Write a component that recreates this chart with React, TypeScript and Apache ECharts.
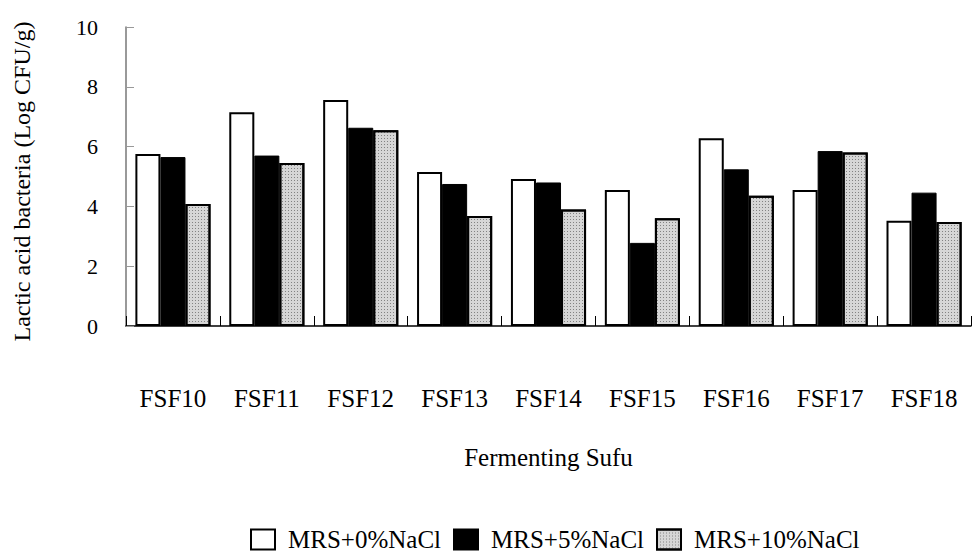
import React, { useEffect, useRef } from "react";
import * as echarts from "echarts";

const categories = ["FSF10", "FSF11", "FSF12", "FSF13", "FSF14", "FSF15", "FSF16", "FSF17", "FSF18"];
const nacl0 = [5.75, 7.15, 7.56, 5.15, 4.92, 4.55, 6.28, 4.55, 3.52];
const nacl5 = [5.65, 5.7, 6.63, 4.75, 4.8, 2.78, 5.24, 5.85, 4.46];
const nacl10 = [4.08, 5.45, 6.55, 3.68, 3.9, 3.6, 4.36, 5.8, 3.48];
const seriesNames = ["MRS+0%NaCl", "MRS+5%NaCl", "MRS+10%NaCl"];

const FONT = "'Liberation Serif', 'Times New Roman', serif";

export default function App() {
  const ref = useRef<HTMLDivElement>(null);
  useEffect(() => {
    document.body.style.margin = "0";
    const chart = echarts.init(ref.current!, null, { renderer: "svg" });
    const grayDecal = {
      symbol: "rect",
      symbolSize: 1,
      color: "rgba(60,60,60,0.55)",
      dashArrayX: [[1, 2]],
      dashArrayY: [1, 2],
      rotation: 0,
    };
    chart.setOption({
      animation: false,
      backgroundColor: "#ffffff",
      textStyle: { fontFamily: FONT, color: "#000" },
      grid: { left: 126, right: 1, top: 27, bottom: 230, containLabel: false },
      legend: {
        left: 250,
        top: 527,
        icon: "rect",
        itemWidth: 24,
        itemHeight: 20,
        itemGap: 12,
        padding: 0,
        textStyle: { fontFamily: FONT, fontSize: 25, lineHeight: 22, color: "#000", padding: [0, 0, 0, 8] },
        data: seriesNames,
      },
      xAxis: {
        type: "category",
        data: categories,
        name: "Fermenting Sufu",
        nameLocation: "middle",
        nameGap: 119,
        nameTextStyle: { fontFamily: FONT, fontSize: 25, color: "#000" },
        axisLine: { lineStyle: { color: "#000", width: 1.5 } },
        axisTick: { show: true, inside: true, length: 10, alignWithLabel: false, lineStyle: { color: "#000" } },
        axisLabel: { fontFamily: FONT, fontSize: 25, color: "#000", margin: 60 },
      },
      yAxis: {
        type: "value",
        min: 0,
        max: 10,
        interval: 2,
        name: "Lactic acid bacteria (Log CFU/g)",
        nameLocation: "middle",
        nameRotate: 90,
        nameGap: 92,
        nameTextStyle: { fontFamily: FONT, fontSize: 24, color: "#000", padding: [0, 10, 0, 0] },
        axisLine: { show: true, lineStyle: { color: "#777", width: 1.5 } },
        axisTick: { show: true, inside: true, length: 8, lineStyle: { color: "#999" } },
        axisLabel: { fontFamily: FONT, fontSize: 22, color: "#000", margin: 28 },
        splitLine: { show: false },
      },
      series: [
        {
          name: seriesNames[0],
          type: "bar",
          data: nacl0,
          barGap: "0%",
          barCategoryGap: "20%",
          itemStyle: { color: "#ffffff", borderColor: "#000", borderWidth: 2 },
        },
        {
          name: seriesNames[1],
          type: "bar",
          data: nacl5,
          itemStyle: { color: "#000000", borderColor: "#000", borderWidth: 1 },
        },
        {
          name: seriesNames[2],
          type: "bar",
          data: nacl10,
          itemStyle: { color: "#d6d6d6", borderColor: "#000", borderWidth: 2, decal: grayDecal },
        },
      ],
    });
    return () => chart.dispose();
  }, []);
  return <div ref={ref} style={{ width: 972, height: 556 }} />;
}
